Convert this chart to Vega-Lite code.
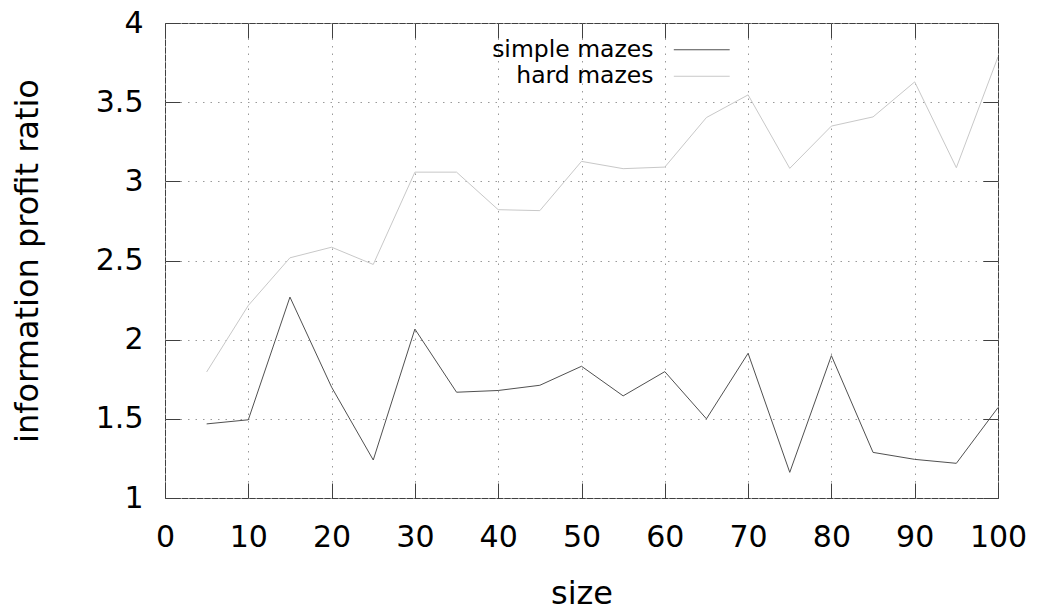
{
  "$schema": "https://vega.github.io/schema/vega-lite/v6.json",
  "autosize": "none",
  "width": 833,
  "height": 475,
  "padding": {"left": 165, "top": 23, "right": 40, "bottom": 117},
  "background": "white",
  "config": {
    "font": "DejaVu Sans",
    "view": {"stroke": "#404040", "strokeWidth": 1},
    "axis": {
      "labelColor": "black",
      "titleColor": "black",
      "labelFont": "DejaVu Sans",
      "titleFont": "DejaVu Sans",
      "titleFontWeight": "normal",
      "labelFontSize": 30,
      "titleFontSize": 32,
      "tickColor": "#404040",
      "tickSize": -15,
      "domain": false,
      "gridColor": "#9a9a9a",
      "gridDash": [1.5, 6],
      "gridWidth": 1
    }
  },
  "data": {
    "values": [
      {"size": 5, "ratio": 1.468, "maze": "simple mazes"},
      {"size": 10, "ratio": 1.494, "maze": "simple mazes"},
      {"size": 15, "ratio": 2.269, "maze": "simple mazes"},
      {"size": 20, "ratio": 1.70, "maze": "simple mazes"},
      {"size": 25, "ratio": 1.24, "maze": "simple mazes"},
      {"size": 30, "ratio": 2.067, "maze": "simple mazes"},
      {"size": 35, "ratio": 1.668, "maze": "simple mazes"},
      {"size": 40, "ratio": 1.679, "maze": "simple mazes"},
      {"size": 45, "ratio": 1.712, "maze": "simple mazes"},
      {"size": 50, "ratio": 1.832, "maze": "simple mazes"},
      {"size": 55, "ratio": 1.645, "maze": "simple mazes"},
      {"size": 60, "ratio": 1.798, "maze": "simple mazes"},
      {"size": 65, "ratio": 1.50, "maze": "simple mazes"},
      {"size": 70, "ratio": 1.914, "maze": "simple mazes"},
      {"size": 75, "ratio": 1.162, "maze": "simple mazes"},
      {"size": 80, "ratio": 1.899, "maze": "simple mazes"},
      {"size": 85, "ratio": 1.288, "maze": "simple mazes"},
      {"size": 90, "ratio": 1.244, "maze": "simple mazes"},
      {"size": 95, "ratio": 1.219, "maze": "simple mazes"},
      {"size": 100, "ratio": 1.571, "maze": "simple mazes"},
      {"size": 5, "ratio": 1.796, "maze": "hard mazes"},
      {"size": 10, "ratio": 2.216, "maze": "hard mazes"},
      {"size": 15, "ratio": 2.517, "maze": "hard mazes"},
      {"size": 20, "ratio": 2.584, "maze": "hard mazes"},
      {"size": 25, "ratio": 2.475, "maze": "hard mazes"},
      {"size": 30, "ratio": 3.058, "maze": "hard mazes"},
      {"size": 35, "ratio": 3.058, "maze": "hard mazes"},
      {"size": 40, "ratio": 2.821, "maze": "hard mazes"},
      {"size": 45, "ratio": 2.815, "maze": "hard mazes"},
      {"size": 50, "ratio": 3.126, "maze": "hard mazes"},
      {"size": 55, "ratio": 3.080, "maze": "hard mazes"},
      {"size": 60, "ratio": 3.090, "maze": "hard mazes"},
      {"size": 65, "ratio": 3.403, "maze": "hard mazes"},
      {"size": 70, "ratio": 3.546, "maze": "hard mazes"},
      {"size": 75, "ratio": 3.082, "maze": "hard mazes"},
      {"size": 80, "ratio": 3.349, "maze": "hard mazes"},
      {"size": 85, "ratio": 3.407, "maze": "hard mazes"},
      {"size": 90, "ratio": 3.628, "maze": "hard mazes"},
      {"size": 95, "ratio": 3.086, "maze": "hard mazes"},
      {"size": 100, "ratio": 3.786, "maze": "hard mazes"}
    ]
  },
  "layer": [
    {
      "mark": {"type": "line", "strokeWidth": 1, "clip": true},
      "encoding": {
        "x": {
          "field": "size", "type": "quantitative",
          "scale": {"domain": [0, 100], "nice": false, "zero": false},
          "axis": {
            "orient": "bottom",
            "values": [0, 10, 20, 30, 40, 50, 60, 70, 80, 90, 100],
            "grid": true,
            "labelPadding": 39,
            "labelFlush": false,
            "title": "size",
            "titleBaseline": "alphabetic",
            "titleY": 105
          }
        },
        "y": {
          "field": "ratio", "type": "quantitative",
          "scale": {"domain": [1, 4], "nice": false, "zero": false},
          "axis": {
            "orient": "left",
            "values": [1, 1.5, 2, 2.5, 3, 3.5, 4],
            "format": "~g",
            "grid": true,
            "labelPadding": 37,
            "labelFlush": false,
            "title": "information profit ratio",
            "titleAngle": -90,
            "titleBaseline": "alphabetic",
            "titleX": -128
          }
        },
        "color": {
          "field": "maze", "type": "nominal",
          "scale": {"domain": ["simple mazes", "hard mazes"], "range": ["#505050", "#c8c8c8"]},
          "legend": {
            "title": null,
            "orient": "none",
            "legendX": 525,
            "legendY": 15,
            "padding": 0,
            "fillColor": "white",
            "symbolType": "M-5,0H5",
            "symbolSize": 125,
            "symbolStrokeWidth": 1,
            "labelAlign": "right",
            "labelOffset": -60,
            "labelFontSize": 23.5,
            "labelFont": "DejaVu Sans",
            "labelColor": "black",
            "rowPadding": 1.5,
            "labelLimit": 400
          }
        }
      }
    },
    {
      "mark": {"type": "point", "opacity": 0},
      "encoding": {
        "x": {
          "field": "size", "type": "quantitative",
          "axis": {
            "orient": "top",
            "values": [0, 10, 20, 30, 40, 50, 60, 70, 80, 90, 100],
            "labels": false, "grid": false, "title": null, "zindex": 2
          }
        },
        "y": {
          "field": "ratio", "type": "quantitative",
          "axis": {
            "orient": "right",
            "values": [1, 1.5, 2, 2.5, 3, 3.5, 4],
            "labels": false, "grid": false, "title": null
          }
        }
      }
    }
  ],
  "resolve": {"axis": {"x": "independent", "y": "independent"}}
}
